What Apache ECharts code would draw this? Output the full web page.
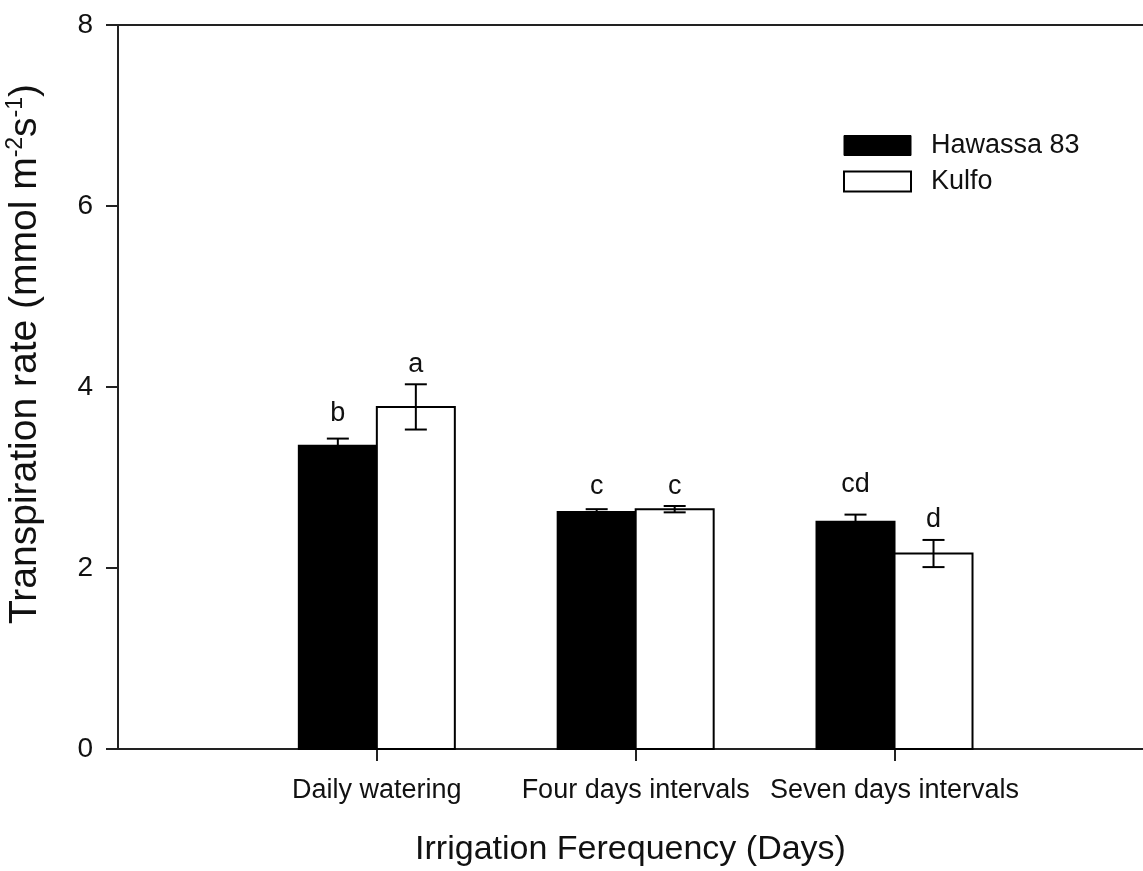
<!DOCTYPE html>
<html>
<head>
<meta charset="utf-8">
<script src="https://cdn.jsdelivr.net/npm/echarts@6/dist/echarts.min.js"></script>
<style>
  html, body { margin: 0; padding: 0; background: #fff; }
  #chart { width: 1143px; height: 871px; }
</style>
</head>
<body>
<div id="chart"></div>
<script>
// values
const categories = ["Daily watering", "Four days intervals", "Seven days intervals"];
const categoryPos = [1, 2, 3];
const hawassaMean = [3.35, 2.62, 2.51];
const hawassaErr = [0.08, 0.03, 0.08];
const kulfoMean = [3.78, 2.65, 2.16];
const kulfoErr = [0.25, 0.035, 0.15];
const hawassaLetters = ["b", "c", "cd"];
const kulfoLetters = ["a", "c", "d"];
const hawassaLetterY = [3.62, 2.82, 2.84];
const kulfoLetterY = [4.17, 2.82, 2.45];

const FONT = "'Liberation Sans', Arial, sans-serif";
const INK = "#111";
const AXIS = "#222";
const BAR_W = 78;
const CAP_W = 22;

function makeRenderer(side, fill, letters, letterY) {
  return function (params, api) {
    const i = params.dataIndex;
    const x = api.value(0);
    const mean = api.value(1);
    const err = api.value(2);
    const base = api.coord([x, 0]);
    const top = api.coord([x, mean]);
    const hi = api.coord([x, mean + err]);
    const lo = api.coord([x, mean - err]);
    const lab = api.coord([x, letterY[i]]);
    const left = side < 0 ? base[0] - BAR_W : base[0];
    const cx = left + BAR_W / 2;
    const line = { stroke: "#000", lineWidth: 2 };
    return {
      type: "group",
      children: [
        {
          type: "rect",
          shape: { x: left, y: top[1], width: BAR_W, height: base[1] - top[1] },
          style: { fill: fill, stroke: "#000", lineWidth: 2 },
        },
        { type: "line", shape: { x1: cx, y1: lo[1], x2: cx, y2: hi[1] }, style: line },
        { type: "line", shape: { x1: cx - CAP_W / 2, y1: hi[1], x2: cx + CAP_W / 2, y2: hi[1] }, style: line },
        { type: "line", shape: { x1: cx - CAP_W / 2, y1: lo[1], x2: cx + CAP_W / 2, y2: lo[1] }, style: line },
        {
          type: "text",
          x: cx,
          y: lab[1] + 6,
          style: {
            text: letters[i],
            fontSize: 27,
            fontFamily: FONT,
            fill: INK,
            align: "center",
            verticalAlign: "bottom",
          },
        },
      ],
    };
  };
}

const chart = echarts.init(document.getElementById("chart"));
chart.setOption({
  animation: false,
  backgroundColor: "#fff",
  grid: { left: 118, right: 0, top: 25, bottom: 122, outerBoundsMode: "none", containLabel: false },
  legend: {
    orient: "vertical",
    left: 843,
    top: 132,
    padding: 0,
    itemWidth: 67,
    itemHeight: 20,
    itemGap: 9,
    textStyle: { fontSize: 27, fontFamily: FONT, color: INK, padding: [0, 0, 0, 15] },
    data: [
      { name: "Hawassa 83", icon: "rect", itemStyle: { color: "#000", borderColor: "#000", borderWidth: 1 } },
      { name: "Kulfo", icon: "rect", itemStyle: { color: "#fff", borderColor: "#000", borderWidth: 2 } },
    ],
  },
  xAxis: [
    {
      type: "value",
      min: 0,
      max: 3.96,
      splitLine: { show: false },
      axisLine: { lineStyle: { color: AXIS, width: 2 } },
      axisTick: { show: true, customValues: categoryPos, length: 12, lineStyle: { color: AXIS, width: 2 } },
      axisLabel: {
        customValues: categoryPos,
        formatter: (v) => categories[categoryPos.indexOf(v)] || "",
        margin: 28,
        fontSize: 27,
        fontFamily: FONT,
        color: INK,
      },
      name: "Irrigation Ferequency (Days)",
      nameLocation: "middle",
      nameGap: 84,
      nameTextStyle: { fontSize: 34, fontFamily: FONT, color: INK },
    },
    {
      // top frame line only
      type: "value",
      position: "top",
      min: 0,
      max: 3.96,
      axisLine: { show: true, onZero: false, lineStyle: { color: AXIS, width: 2 } },
      axisTick: { show: false },
      axisLabel: { show: false },
      splitLine: { show: false },
    },
  ],
  yAxis: {
    type: "value",
    min: 0,
    max: 8,
    interval: 2,
    splitLine: { show: false },
    axisLine: { show: true, lineStyle: { color: AXIS, width: 2 } },
    axisTick: { show: true, length: 12, lineStyle: { color: AXIS, width: 2 } },
    axisLabel: { margin: 25, fontSize: 28, fontFamily: FONT, color: INK },
    name: "{n|Transpiration rate (mmol m}{s|-2}{n|s}{s|-1}{n|)}",
    nameLocation: "middle",
    nameRotate: 90,
    nameGap: 72,
    nameTextStyle: {
      padding: [0, 0, 0, 66],
      rich: {
        n: { fontSize: 39, fontFamily: FONT, color: INK, lineHeight: 42 },
        s: { fontSize: 23, fontFamily: FONT, color: INK, lineHeight: 23, verticalAlign: "top" },
      },
    },
  },
  series: [
    {
      name: "Hawassa 83",
      type: "custom",
      renderItem: makeRenderer(-1, "#000", hawassaLetters, hawassaLetterY),
      itemStyle: { color: "#000" },
      encode: { x: 0, y: 1 },
      data: categoryPos.map((p, i) => [p, hawassaMean[i], hawassaErr[i]]),
    },
    {
      name: "Kulfo",
      type: "custom",
      renderItem: makeRenderer(1, "#fff", kulfoLetters, kulfoLetterY),
      itemStyle: { color: "#fff" },
      encode: { x: 0, y: 1 },
      data: categoryPos.map((p, i) => [p, kulfoMean[i], kulfoErr[i]]),
    },
  ],
});
</script>
</body>
</html>
